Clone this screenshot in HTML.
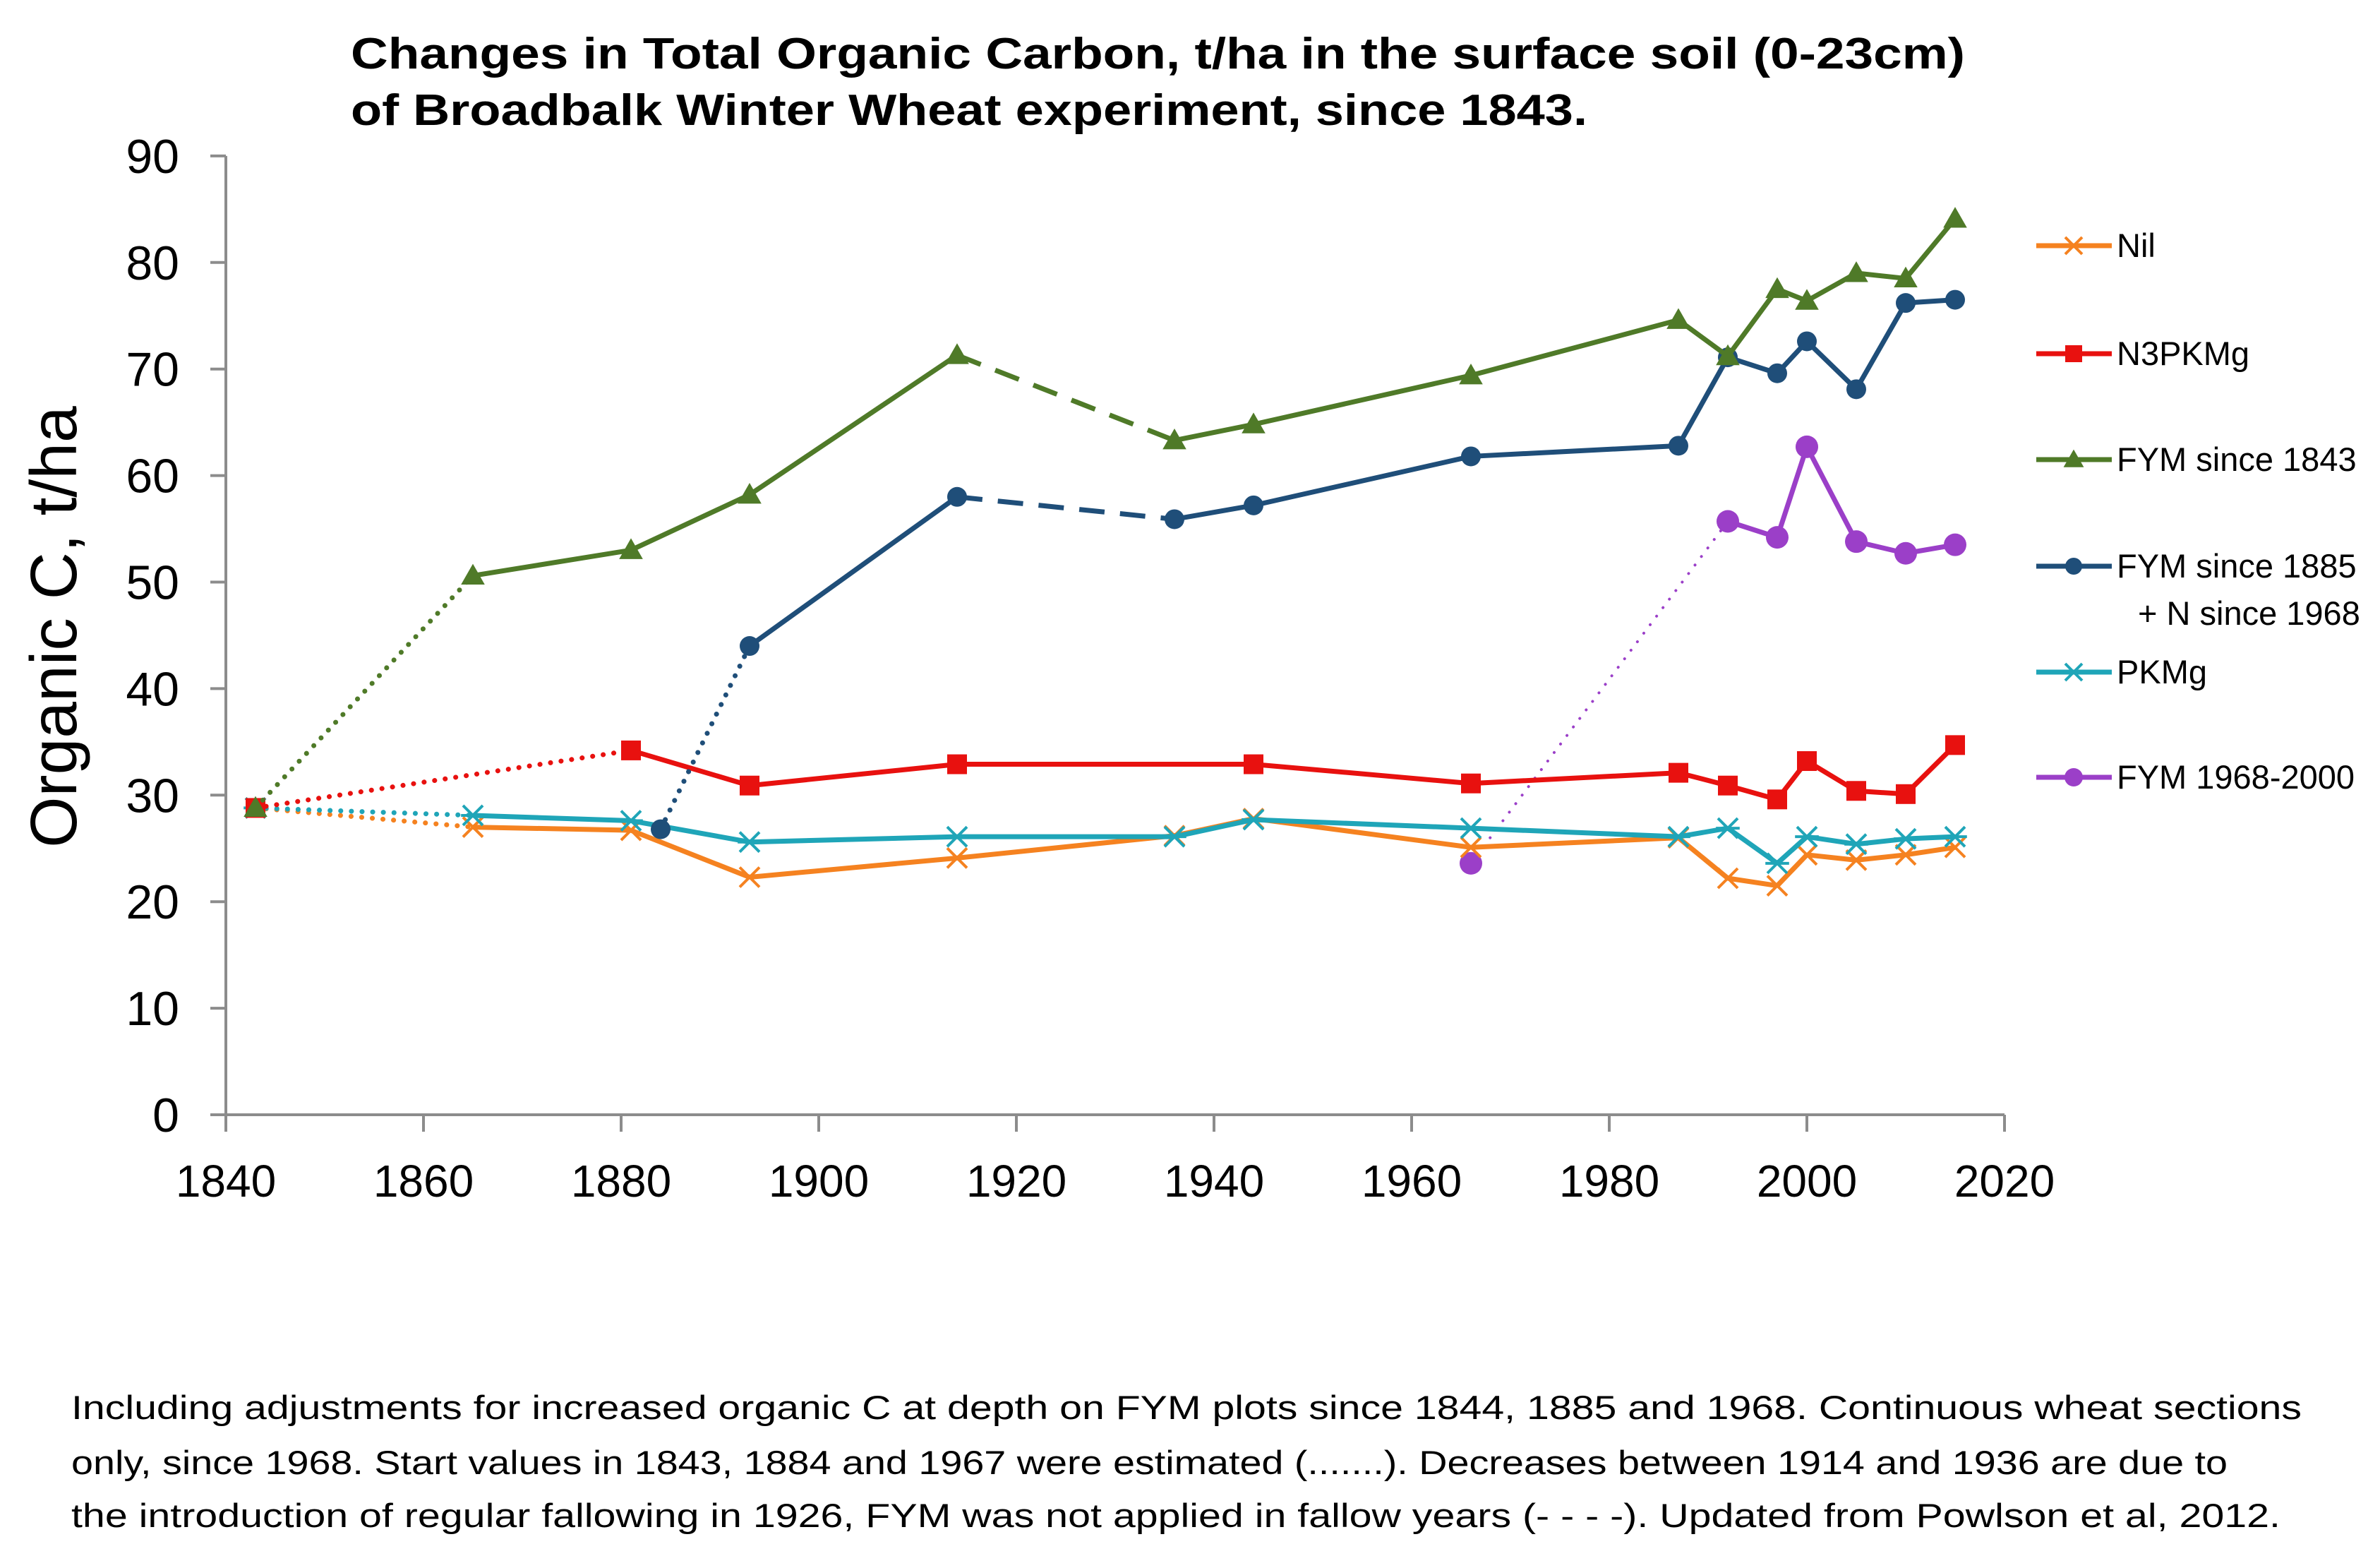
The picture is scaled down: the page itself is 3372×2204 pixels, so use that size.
<!DOCTYPE html>
<html><head><meta charset="utf-8"><style>
html,body{margin:0;padding:0;background:#fff;}
svg{display:block;font-family:"Liberation Sans",sans-serif;}
</style></head><body>
<svg id="chart" width="3372" height="2204" viewBox="0 0 3372 2204" xmlns="http://www.w3.org/2000/svg">
<rect width="3372" height="2204" fill="#fff"/>
<g font-weight="bold" font-size="62" fill="#000">
<text x="497" y="97" textLength="2287" lengthAdjust="spacingAndGlyphs">Changes in Total Organic  Carbon, t/ha in the surface soil (0-23cm)</text>
<text x="497" y="177" textLength="1752" lengthAdjust="spacingAndGlyphs">of Broadbalk Winter Wheat experiment, since 1843.</text>
</g>
<text transform="translate(108,888) rotate(-90)" text-anchor="middle" font-size="93" fill="#000">Organic C, t/ha</text>
<g id="axes"></g>
<g id="series"></g>
<g id="legend"></g>
<g font-size="47" fill="#000">
<text x="101" y="2010" textLength="3160" lengthAdjust="spacingAndGlyphs">Including adjustments for increased  organic  C  at depth on FYM plots since 1844, 1885 and 1968. Continuous wheat sections</text>
<text x="101" y="2088" textLength="3055" lengthAdjust="spacingAndGlyphs">only, since 1968. Start values in 1843, 1884 and 1967 were estimated (.......).  Decreases between 1914 and 1936 are due to</text>
<text x="101" y="2163" textLength="3130" lengthAdjust="spacingAndGlyphs">the introduction of regular fallowing in 1926, FYM was not applied in fallow years (- - - -). Updated from Powlson et al, 2012.</text>
</g>
</svg>
<script>
const xTicks = [1840,1860,1880,1900,1920,1940,1960,1980,2000,2020];
const yTicks = [0,10,20,30,40,50,60,70,80,90];
const seriesNames = ["Nil","N3PKMg","FYM since 1843","FYM since 1885","PKMg","FYM 1968-2000"];
const nilYears = [1843,1865,1881,1893,1914,1936,1944,1966,1987,1992,1997,2000,2005,2010,2015];
const nilValues = [28.8,27,26.7,22.3,24.1,26.2,27.8,25.1,26,22.2,21.5,24.4,23.9,24.4,25.1];
const n3Years = [1843,1881,1893,1914,1944,1966,1987,1992,1997,2000,2005,2010,2015];
const n3Values = [28.8,34.2,30.9,32.9,32.9,31.1,32.1,30.9,29.6,33.2,30.4,30.1,34.7];
const fym1843Years = [1843,1865,1881,1893,1914,1936,1944,1966,1987,1992,1997,2000,2005,2010,2015];
const fym1843Values = [28.8,50.6,53,58.2,71.3,63.3,64.8,69.4,74.6,71.2,77.5,76.4,79,78.5,84.1];
const fym1885Years = [1884,1893,1914,1936,1944,1966,1987,1992,1997,2000,2005,2010,2015];
const fym1885Values = [26.8,44,58,55.9,57.2,61.8,62.8,71.1,69.6,72.6,68.1,76.2,76.5];
const pkYears = [1843,1865,1881,1893,1914,1936,1944,1966,1987,1992,1997,2000,2005,2010,2015];
const pkValues = [28.8,28.1,27.6,25.6,26.1,26.1,27.7,26.9,26.1,26.9,23.6,26.1,25.4,25.9,26.1];
const fym1968Years = [1966,1992,1997,2000,2005,2010,2015];
const fym1968Values = [23.6,55.7,54.2,62.7,53.8,52.7,53.5];

const NS="http://www.w3.org/2000/svg";
const X0=320, XS=14.0, Y0=1579, YS=15.09;
const xs=y=>X0+(y-1840)*XS;
const ys=v=>Y0-v*YS;
function mk(tag,attrs,parent){const e=document.createElementNS(NS,tag);for(const k in attrs)e.setAttribute(k,attrs[k]);parent.appendChild(e);return e;}

const axes=document.getElementById('axes');
const axisGrey="#8c8c8c";
let yl=mk('line',{x1:X0,y1:ys(90),x2:X0,y2:Y0,stroke:axisGrey,'stroke-width':4},axes);


let xl=mk('line',{x1:X0,y1:Y0,x2:xs(2020),y2:Y0,stroke:axisGrey,'stroke-width':4},axes);


yTicks.forEach(v=>{
  mk('line',{x1:X0-22,y1:ys(v),x2:X0,y2:ys(v),stroke:axisGrey,'stroke-width':4},axes);
  const t=mk('text',{x:254,y:ys(v)+24,'text-anchor':'end','font-size':68,fill:'#000'},axes);
  t.textContent=v;
  
  
});
xTicks.forEach(y=>{
  mk('line',{x1:xs(y),y1:Y0,x2:xs(y),y2:Y0+24,stroke:axisGrey,'stroke-width':4},axes);
  const t=mk('text',{x:xs(y),y:Y0+116,'text-anchor':'middle','font-size':64,fill:'#000'},axes);
  t.textContent=y;
  
  
});

const colors=["#F58220","#E8110F","#4F7A28","#1F4E79","#1FA5B8","#9B3FC8"];
const marks=["x","square","tri","circle","star","circle"];
const allYears=[nilYears,n3Years,fym1843Years,fym1885Years,pkYears,fym1968Years];
const allValues=[nilValues,n3Values,fym1843Values,fym1885Values,pkValues,fym1968Values];
function segStyle(i,a,b,years){
  if(a===0) return 'dot';
  if(years[a]===1914 && (i===2||i===3)) return 'dash';
  return 'solid';
}
function drawMarker(g,type,cx,cy,col,size){
  const s=size;
  if(type==='square') mk('rect',{x:cx-s/2,y:cy-s/2,width:s,height:s,fill:col},g);
  else if(type==='tri') mk('polygon',{points:`${cx},${cy-s*0.6} ${cx-s*0.6},${cy+s*0.45} ${cx+s*0.6},${cy+s*0.45}`,fill:col},g);
  else if(type==='circle') mk('circle',{cx:cx,cy:cy,r:s/2,fill:col},g);
  else if(type==='x'){mk('path',{d:`M${cx-s/2},${cy-s/2}L${cx+s/2},${cy+s/2}M${cx-s/2},${cy+s/2}L${cx+s/2},${cy-s/2}`,stroke:col,'stroke-width':4,fill:'none'},g);}
  else if(type==='star'){mk('path',{d:`M${cx-s/2},${cy-s/2}L${cx+s/2},${cy+s/2}M${cx-s/2},${cy+s/2}L${cx+s/2},${cy-s/2}M${cx-s*0.6},${cy}L${cx+s*0.6},${cy}`,stroke:col,'stroke-width':4,fill:'none'},g);}
}
const sg=document.getElementById('series');
const order=[5,0,4,1,3,2];
order.forEach(i=>{
  const g=mk('g',{},sg);
  
  
  const yrs=allYears[i], vals=allValues[i], col=colors[i];
  for(let k=0;k<yrs.length-1;k++){
    const st=segStyle(i,k,k+1,yrs);
    const a={x1:xs(yrs[k]),y1:ys(vals[k]),x2:xs(yrs[k+1]),y2:ys(vals[k+1]),stroke:col,'stroke-width':7,'stroke-linecap':st==='dot'?'round':'butt'};
    if(st==='dot'){a['stroke-dasharray']='0.1 15';if(i===5)a['stroke-width']=4;}
    if(st==='dash'){a['stroke-dasharray']='36 22';}
    mk('line',a,g);
  }
  yrs.forEach((y,k)=>{
    drawMarker(g,marks[i],xs(y),ys(vals[k]),col,i===5?32:28);
  });
});

const lg=document.getElementById('legend');
const legY=[348,501,651,802,952,1101];
seriesNames.forEach((n,i)=>{
  const g=mk('g',{},lg);
  
  
  mk('line',{x1:2885,y1:legY[i],x2:2992,y2:legY[i],stroke:colors[i],'stroke-width':7},g);
  drawMarker(g,marks[i],2938,legY[i],colors[i],i===5?26:24);
  const t=mk('text',{x:2999,y:legY[i]+16,'font-size':47,fill:'#000'},g);
  t.textContent=i===3?'FYM since 1885':n;
  if(i===3){const t2=mk('text',{x:3029,y:legY[i]+83,'font-size':47,fill:'#000'},g);t2.textContent='+ N since 1968';}
});
</script>
</body></html>
